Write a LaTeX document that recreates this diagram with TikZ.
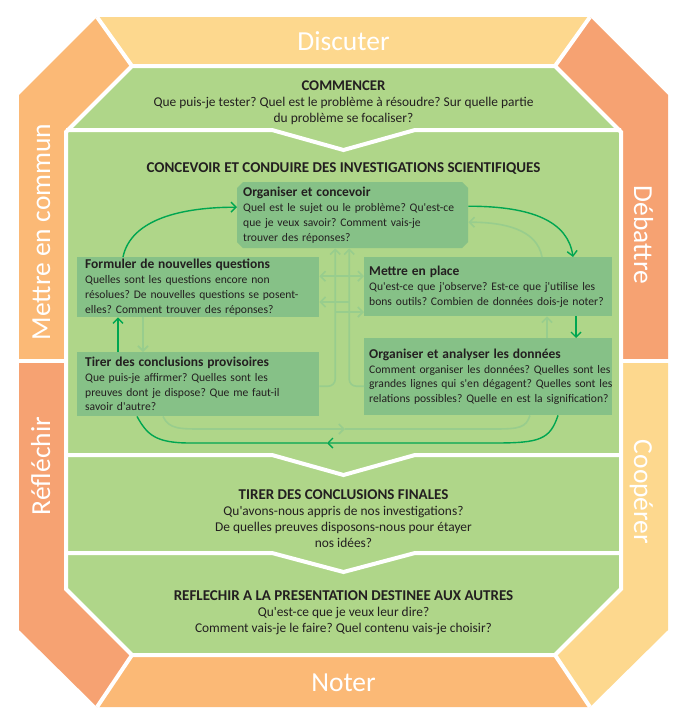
\documentclass[tikz,border=0pt]{standalone}
\usepackage{fontspec}
\setmainfont{Carlito}
\usetikzlibrary{calc,arrows.meta}
\definecolor{gbg}{RGB}{175,214,137}
\definecolor{gbox}{RGB}{134,193,135}
\definecolor{dkg}{RGB}{0,166,81}
\definecolor{ltg}{RGB}{152,205,141}
\definecolor{txt}{RGB}{35,31,32}
\definecolor{cyel}{RGB}{253,216,142}
\definecolor{corg}{RGB}{251,185,118}
\definecolor{csal}{RGB}{246,162,114}
\newcommand\ap{\textquotesingle}
\newcommand\bt[1]{\mbox{\fontsize{13.5}{14.7}\selectfont\bfseries #1}}
\begin{document}
\frenchspacing
\begin{tikzpicture}[x=1pt,y=-1pt]
\tikzset{
 bandlbl/.style={text=white, font=\fontsize{27.5}{30}\selectfont, inner sep=0pt},
 sect/.style={text=txt, align=center, font=\fontsize{13.4}{16.2}\selectfont\frenchspacing, inner sep=0pt},
 secttitle/.style={font=\fontsize{15}{16}\selectfont\bfseries},
 boxn/.style={fill=gbox, text=txt, align=left, inner ysep=0pt, font=\fontsize{11.6}{14.7}\selectfont\frenchspacing, anchor=north west},
 dk/.style={draw=dkg, line width=1.4pt},
 lt/.style={draw=ltg, line width=1.6pt},
 arr/.style={-{Straight Barb[length=5pt,width=10pt]}},
 arrboth/.style={{Straight Barb[length=5pt,width=10pt]}-{Straight Barb[length=5pt,width=10pt]}},
 sep/.style={draw=white, line width=4pt},
}
\useasboundingbox (0,0) rectangle (679,723);
% bands
\fill[cyel] (97,17) -- (590,17) -- (555,66) -- (132,66) -- cycle;
\fill[corg] (97,17) -- (132,66) -- (66,132) -- (66,360) -- (19,360) -- (19,95) -- cycle;
\fill[csal] (19,360) -- (66,360) -- (66,589) -- (132,655) -- (97,707) -- (19,630) -- cycle;
\fill[corg] (97,707) -- (132,655) -- (555,655) -- (590,707) -- cycle;
\fill[cyel] (590,707) -- (555,655) -- (621,589) -- (621,360) -- (668,360) -- (668,630) -- cycle;
\fill[csal] (668,360) -- (621,360) -- (621,132) -- (555,66) -- (590,17) -- (668,95) -- cycle;
\draw[sep] (97,17) -- (132,66);
\draw[sep] (590,17) -- (555,66);
\draw[sep] (97,707) -- (132,655);
\draw[sep] (590,707) -- (555,655);
\draw[sep] (17,360.5) -- (68,360.5);
\draw[sep] (619,360.5) -- (670,360.5);
% green core
\filldraw[fill=gbg, draw=white, line width=4pt] (132,66) -- (555,66) -- (621,132) -- (621,589) -- (555,655) -- (132,655) -- (66,589) -- (66,132) -- cycle;
\draw[sep] (66,130) -- (272,130) -- (343.5,150) -- (415,130) -- (621,130);
\draw[sep] (66,455) -- (272,455) -- (343.5,475) -- (415,455) -- (621,455);
\draw[sep] (66,553) -- (272,553) -- (343.5,572) -- (415,553) -- (621,553);
% band labels
\node[bandlbl, anchor=base] (discuter) at (343.5,50) {Discuter};
\node[bandlbl, anchor=base] (noter) at (343.5,691) {Noter};
\node[bandlbl, anchor=base, rotate=90] (commun) at (50,232) {Mettre en commun};
\node[bandlbl, anchor=base, rotate=90] (reflechir) at (50,466) {Réfléchir};
\node[bandlbl, anchor=base, rotate=-90] (debattre) at (634,235) {Débattre};
\node[bandlbl, anchor=base, rotate=-90] (cooperer) at (634,492) {Coopérer};
% section texts
\node[sect] (commencer) at (343.5,102.5) {{\fontsize{14.8}{16}\selectfont\bfseries COMMENCER}\\Que puis-je tester? Quel est le problème à résoudre? Sur quelle partie\\du problème se focaliser?};
\node[sect, secttitle] (concevoir) at (343.5,169) {CONCEVOIR ET CONDUIRE DES INVESTIGATIONS SCIENTIFIQUES};
\node[sect] (finales) at (343.5,518.5) {{\fontsize{15}{16}\selectfont\bfseries TIRER DES CONCLUSIONS FINALES}\\Qu\ap avons-nous appris de nos investigations?\\De quelles preuves disposons-nous pour étayer\\nos idées?};
\node[sect] (presentation) at (343.5,613) {{\fontsize{15}{16}\selectfont\bfseries REFLECHIR A LA PRESENTATION DESTINEE AUX AUTRES}\\Qu\ap est-ce que je veux leur dire?\\Comment vais-je le faire? Quel contenu vais-je choisir?};
% boxes
\fill[gbox] (243,182) -- (462,182) -- (468,188) -- (468,242) -- (462,248) -- (243,248) -- (237,242) -- (237,188) -- cycle;
\node[boxn, fill=none, minimum width=231, minimum height=66, text width=219, inner xsep=6pt] (orgconc) at (237,182) {\bt{Organiser et concevoir}\\\mbox{Quel est le sujet ou le problème? Qu\ap est-ce}\\\mbox{que je veux savoir? Comment vais-je}\\\mbox{trouver des réponses?}};
\node[boxn, minimum width=242, minimum height=60, text width=226, inner xsep=8pt] (formuler) at (77,257) {\bt{Formuler de nouvelles questions}\\\mbox{Quelles sont les questions encore non}\\\mbox{résolues? De nouvelles questions se posent-}\\\mbox{elles? Comment trouver des réponses?}};
\node[boxn, minimum width=242, minimum height=64, text width=226, inner xsep=8pt] (tirer) at (77,352) {\bt{Tirer des conclusions provisoires}\\\mbox{Que puis-je affirmer? Quelles sont les}\\\mbox{preuves dont je dispose? Que me faut-il}\\\mbox{savoir d\ap autre?}};
\node[boxn, minimum width=248, minimum height=59, text width=238, inner xsep=5pt] (mettre) at (364,257) {\bt{Mettre en place}\\\mbox{Qu\ap est-ce que j\ap observe? Est-ce que j\ap utilise les}\\\mbox{bons outils? Combien de données dois-je noter?}};
\node[boxn, minimum width=248, minimum height=77, text width=238, inner xsep=5pt] (analyser) at (364,338) {\bt{Organiser et analyser les données}\\\mbox{Comment organiser les données? Quelles sont les}\\\mbox{grandes lignes qui s\ap en dégagent? Quelles sont les}\\\mbox{relations possibles? Quelle en est la signification?}};
% light connectors
\draw[lt, arr] ($(mettre.north west)+(178,0)$) .. controls +(-5,-28) and +(35,0) .. ($(orgconc.east)+(0,7)$);
\draw[lt, arr] ($(analyser.north west)+(183,0)$) -- ($(mettre.south west)+(183,0)$);
\draw[lt, arr] ($(formuler.south west)+(66,0)$) -- ($(tirer.north west)+(66,0)$);
\draw[lt, arr, rounded corners=7pt] ($(tirer.east)+(0,2)$) -| ($(orgconc.south)+(-17.5,0)$);
\draw[lt, arr, rounded corners=7pt] ($(analyser.west)+(0,9.5)$) -| ($(orgconc.south)+(-3.5,0)$);
\draw[lt, arrboth] ($(formuler.east)+(0,-11)$) -- ($(mettre.west)+(0,-10.5)$);
\coordinate (busR) at (349,302);
\coordinate (busL) at (335,312);
\draw[lt, arr] (busR) -- (formuler.east |- busR);
\draw[lt, arr] (busL) -- (mettre.west |- busL);
\coordinate (ltmid) at (345,429);
\draw[lt, arr] ($(tirer.south west)+(86,0)$) .. controls +(6,13) and +(-25,0) .. (205,429) -- (ltmid);
\draw[lt] (ltmid) -- (495,429) .. controls +(25,0) and +(-4,12) .. ($(analyser.south west)+(166,0)$);
% dark connectors
\draw[dk, arr] ($(formuler.north west)+(46,0)$) .. controls +(8,-38) and +(-55,0) .. ($(orgconc.west)+(0,-8)$);
\draw[dk, arr] ($(orgconc.east)+(0,-9)$) .. controls +(65,0) and +(-5,-35) .. ($(mettre.north west)+(209,0)$);
\draw[dk, arr] ($(mettre.south west)+(212,0)$) -- ($(analyser.north west)+(212,0)$);
\coordinate (dkmid) at (327,443);
\draw[dk, arr] ($(analyser.south west)+(194,0)$) .. controls +(-8,24) and +(45,0) .. (495,443) -- (dkmid);
\draw[dk] (dkmid) -- (190,443) .. controls +(-35,0) and +(10,18) .. ($(tirer.south west)+(60,0)$);
\draw[dk, arr] ($(tirer.north west)+(41,0)$) -- ($(formuler.south west)+(41,0)$);
\end{tikzpicture}
\end{document}
